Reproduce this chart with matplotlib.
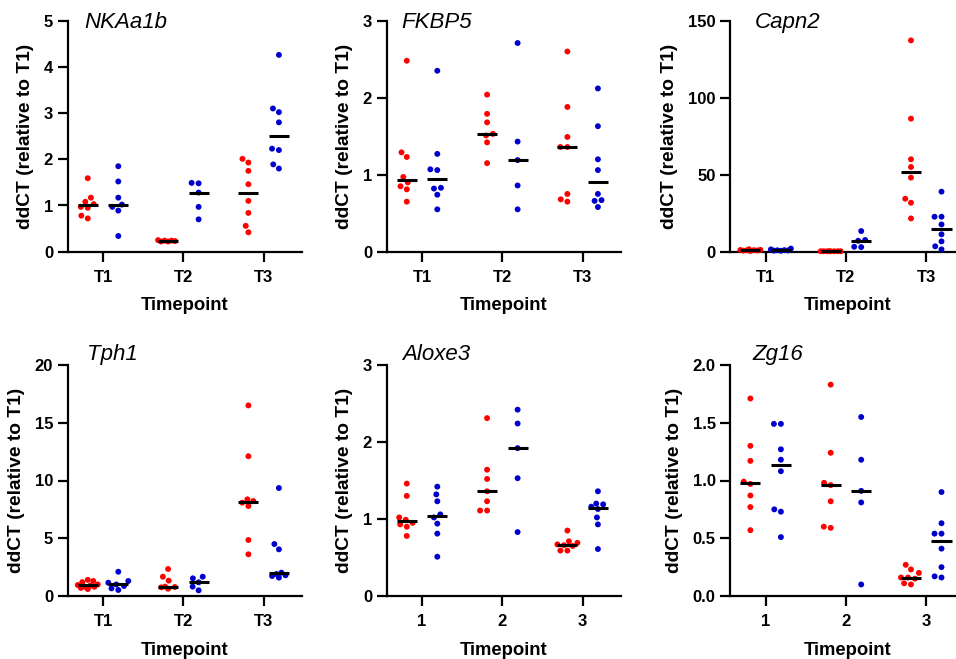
import numpy as np
import matplotlib
matplotlib.use("Agg")
import matplotlib.pyplot as plt
from matplotlib.ticker import FormatStrFormatter

plt.rcParams['font.family'] = ['Liberation Sans', 'DejaVu Sans']

# ---------------- data ----------------
genes = ["NKAa1b", "FKBP5", "Capn2", "Tph1", "Aloxe3", "Zg16"]

nka_red = [[1.59, 1.17, 1.08, 1.03, 0.97, 0.95, 0.78, 0.72],
           [0.22, 0.24, 0.25, 0.23, 0.22, 0.24],
           [2.01, 1.93, 1.75, 1.46, 1.10, 0.84, 0.56, 0.42]]
nka_blue = [[1.85, 1.52, 1.17, 1.02, 0.97, 0.89, 0.34],
            [1.49, 1.48, 1.28, 0.97, 0.70],
            [4.26, 3.10, 3.02, 2.80, 2.23, 2.20, 1.89, 1.80]]

fkbp_red = [[2.48, 1.29, 1.23, 0.97, 0.90, 0.85, 0.81, 0.65],
            [2.04, 1.79, 1.68, 1.53, 1.51, 1.42, 1.15],
            [2.60, 1.88, 1.49, 1.36, 1.36, 0.75, 0.68, 0.65]]
fkbp_blue = [[2.35, 1.27, 1.07, 1.06, 0.83, 0.82, 0.74, 0.55],
             [2.71, 1.43, 1.19, 0.86, 0.55],
             [2.12, 1.63, 1.20, 1.06, 0.75, 0.67, 0.66, 0.58]]

capn_red = [[1.6, 1.2, 1.1, 1.0, 0.9, 0.8, 0.7, 0.5],
            [0.3, 0.3, 0.3, 0.3, 0.3, 0.3, 0.3, 0.3],
            [137.2, 86.4, 60.0, 55.0, 48.1, 34.4, 31.8, 21.6]]
capn_blue = [[2.0, 1.5, 1.0, 0.9, 0.8, 0.7, 0.6],
             [13.4, 7.6, 7.1, 3.2, 3.0],
             [39.0, 22.7, 22.7, 17.7, 11.3, 6.7, 3.5, 1.5]]

tph_red = [[1.4, 1.3, 1.2, 1.0, 0.95, 0.9, 0.8, 0.8, 0.7, 0.6],
           [2.34, 1.67, 1.33, 0.81, 0.78, 0.75, 0.63],
           [16.5, 12.1, 8.37, 8.22, 8.08, 7.79, 4.85, 3.61]]
tph_blue = [[2.1, 1.3, 1.15, 1.0, 0.87, 0.66, 0.52],
            [1.67, 1.53, 1.18, 0.81, 0.49],
            [9.35, 4.5, 4.04, 2.02, 1.90, 1.79, 1.73, 1.59]]

alox_red = [[1.46, 1.30, 1.02, 0.99, 0.95, 0.93, 0.90, 0.78],
            [2.31, 1.64, 1.52, 1.36, 1.23, 1.11, 1.11],
            [0.85, 0.71, 0.69, 0.67, 0.66, 0.65, 0.59, 0.59]]
alox_blue = [[1.42, 1.32, 1.23, 1.06, 1.02, 0.94, 0.81, 0.51],
             [2.42, 2.24, 1.92, 1.53, 0.83],
             [1.36, 1.20, 1.19, 1.16, 1.13, 1.02, 0.93, 0.61]]

zg_red = [[1.71, 1.30, 1.17, 0.99, 0.97, 0.87, 0.77, 0.57],
          [1.83, 1.24, 0.98, 0.96, 0.82, 0.60, 0.59],
          [0.27, 0.23, 0.20, 0.16, 0.16, 0.15, 0.11, 0.10]]
zg_blue = [[1.49, 1.49, 1.27, 1.18, 1.08, 0.75, 0.73, 0.51],
           [1.55, 1.18, 0.91, 0.81, 0.10],
           [0.90, 0.63, 0.54, 0.54, 0.41, 0.25, 0.17, 0.16]]

red_data = [nka_red, fkbp_red, capn_red, tph_red, alox_red, zg_red]
blue_data = [nka_blue, fkbp_blue, capn_blue, tph_blue, alox_blue, zg_blue]

xlabels_T = ["T1", "T2", "T3"]
xlabels_N = ["1", "2", "3"]
panel_xticklabels = [xlabels_T, xlabels_T, xlabels_T, xlabels_T, xlabels_N, xlabels_N]
panel_ymax = [5, 3, 150, 20, 3, 2.0]
panel_ystep = [1, 1, 50, 5, 1, 0.5]

# ---------------- style ----------------
RED = "#FF0000"
BLUE = "#0000CC"
W, H = 956, 659
fig = plt.figure(figsize=(W / 100, H / 100), dpi=100)

col_left = [67.7, 386.7, 730.3]
ax_w = 234.5
row_top = [20.7, 365.0]
ax_h = 231.0
title_dx = [17, 15, 24, 19, 15, 22]
XMIN, XMAX = -0.44, 2.48
OFF = 0.19
HALF = 0.125
D = 7.0      # swarm spacing in px
MAXW = 10.0  # max half-width of a swarm in px


def swarm_offsets(vals, py, d, maxw):
    ys = np.asarray(vals, float) * py
    order = np.argsort(ys)
    placed = []
    xs = np.zeros(len(ys))
    grid = list(np.linspace(-maxw, maxw, 41))
    for i in order:
        cands = [0.0] + grid
        for (xj, yj) in placed:
            dy = ys[i] - yj
            if abs(dy) < d:
                dx = np.sqrt(d * d - dy * dy)
                cands += [xj + dx, xj - dx]
        cands = [cc for cc in cands if abs(cc) <= maxw + 1e-9]
        cands = sorted(cands, key=lambda cc: (abs(cc), cc))

        def mind(cc):
            if not placed:
                return np.inf
            return min((cc - xj) ** 2 + (ys[i] - yj) ** 2 for (xj, yj) in placed)

        chosen = None
        for cc in cands:
            if mind(cc) >= d * d - 1e-6:
                chosen = cc
                break
        if chosen is None:
            chosen = max(cands, key=mind)
        xs[i] = chosen
        placed.append((chosen, ys[i]))
    return xs


for k in range(6):
    r, c = divmod(k, 3)
    left = col_left[c] / W
    bottom = 1 - (row_top[r] + ax_h) / H
    ax = fig.add_axes([left, bottom, ax_w / W, ax_h / H])
    ymax = panel_ymax[k]
    ax.set_xlim(XMIN, XMAX)
    ax.set_ylim(0, ymax)
    px_x = ax_w / (XMAX - XMIN)
    px_y = ax_h / ymax

    for g in range(3):
        for data, color, sgn in ((red_data[k], RED, -1), (blue_data[k], BLUE, 1)):
            vals = data[g]
            center = g + sgn * OFF
            offs = swarm_offsets(vals, px_y, D, MAXW) / px_x
            ax.scatter(center + offs, vals, s=18, color=color, edgecolors='none',
                       zorder=3, clip_on=False)
            med = np.median(vals)
            ax.plot([center - HALF, center + HALF], [med, med], color='black',
                    lw=2.2, solid_capstyle='butt', zorder=4, clip_on=False)

    for s in ("top", "right"):
        ax.spines[s].set_visible(False)
    for s in ("left", "bottom"):
        ax.spines[s].set_linewidth(1.6)
    ax.tick_params(axis='both', width=1.6, length=7, labelsize=12)
    ax.tick_params(axis='x', pad=6)
    ax.tick_params(axis='y', pad=3.5)
    ax.set_xticks([0, 1, 2])
    ax.set_xticklabels(panel_xticklabels[k], fontweight='bold')
    ax.set_yticks(np.arange(0, ymax + 1e-9, panel_ystep[k]))
    if k == 5:
        ax.yaxis.set_major_formatter(FormatStrFormatter('%.1f'))
    for lab in ax.get_yticklabels():
        lab.set_fontweight('bold')
    ax.set_xlabel("Timepoint", fontsize=13.3, fontweight='bold', labelpad=9)
    ax.set_ylabel("ddCT (relative to T1)", fontsize=13.8, fontweight='bold', labelpad=7)
    ax.text(title_dx[k] / ax_w, 1 - 7 / ax_h if r == 0 else 1 + 5 / ax_h, genes[k],
            transform=ax.transAxes, fontsize=16, fontstyle='italic',
            ha='left', va='baseline')

fig.savefig("out.png", dpi=100)
